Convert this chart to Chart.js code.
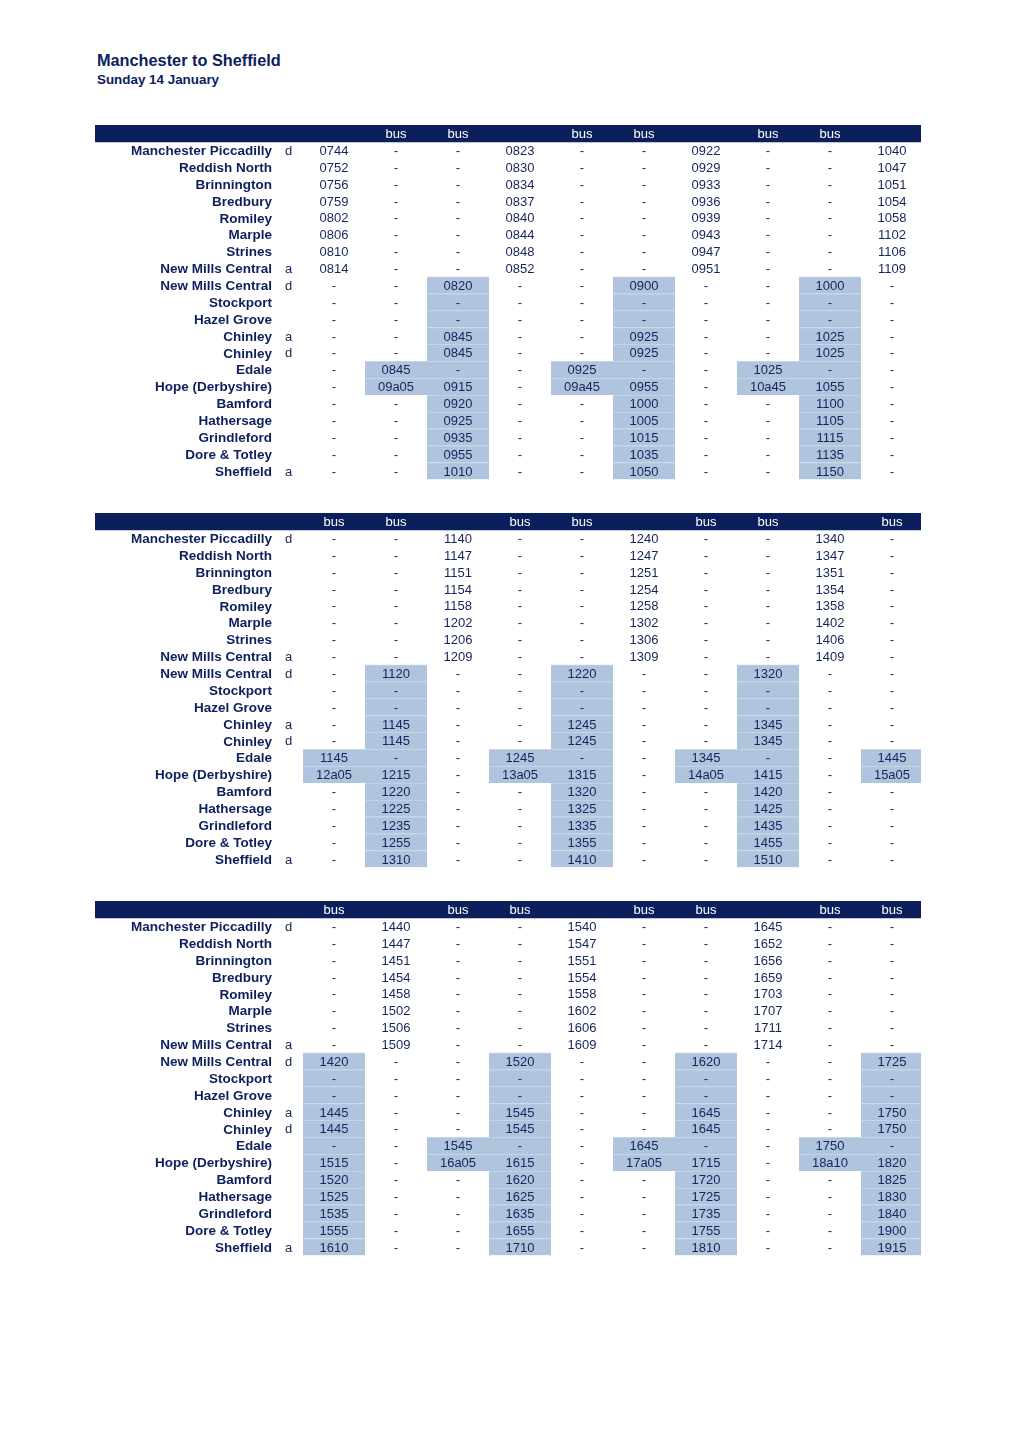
<!DOCTYPE html>
<html>
<head>
<meta charset="utf-8">
<script src="https://cdn.jsdelivr.net/npm/chart.js@4.4.1/dist/chart.umd.min.js"></script>
<style>
  body { margin: 0; background: #fff; width: 1020px; height: 1442px; position: relative; font-family: "Liberation Sans", Arial, sans-serif; }
  h1 { position: absolute; left: 97px; top: 51px; margin: 0; font-size: 16.3px; font-weight: bold; color: #0b2060; }
  h2 { position: absolute; left: 97px; top: 72px; margin: 0; font-size: 13.4px; font-weight: bold; color: #0b2060; }
  canvas { position: absolute; left: 0; }
</style>
</head>
<body>
<h1>Manchester to Sheffield</h1>
<h2>Sunday 14 January</h2>
<canvas id="t1" width="1020" height="365" style="top:120px"></canvas>
<canvas id="t2" width="1020" height="365" style="top:508px"></canvas>
<canvas id="t3" width="1020" height="365" style="top:896px"></canvas>
<script>
var stations = ['Manchester Piccadilly','Reddish North','Brinnington','Bredbury','Romiley','Marple','Strines',
  'New Mills Central','New Mills Central','Stockport','Hazel Grove','Chinley','Chinley','Edale',
  'Hope (Derbyshire)','Bamford','Hathersage','Grindleford','Dore & Totley','Sheffield'];
var arrDep = ['d','','','','','','','a','d','','','a','d','','','','','','','a'];

// columns with "bus" in header (1..10)
var bus1 = [2,3,5,6,8,9];
var bus2 = [1,2,4,5,7,8,10];
var bus3 = [1,3,4,6,7,9,10];

// shaded cells: [column, first row, last row]
var shade1 = [[2,13,14],[3,8,19],[5,13,14],[6,8,19],[8,13,14],[9,8,19]];
var shade2 = [[1,13,14],[2,8,19],[4,13,14],[5,8,19],[7,13,14],[8,8,19],[10,13,14]];
var shade3 = [[1,8,19],[3,13,14],[4,8,19],[6,13,14],[7,8,19],[9,13,14],[10,8,19]];

var times1 = [
  ['0744','-','-','0823','-','-','0922','-','-','1040'],
  ['0752','-','-','0830','-','-','0929','-','-','1047'],
  ['0756','-','-','0834','-','-','0933','-','-','1051'],
  ['0759','-','-','0837','-','-','0936','-','-','1054'],
  ['0802','-','-','0840','-','-','0939','-','-','1058'],
  ['0806','-','-','0844','-','-','0943','-','-','1102'],
  ['0810','-','-','0848','-','-','0947','-','-','1106'],
  ['0814','-','-','0852','-','-','0951','-','-','1109'],
  ['-','-','0820','-','-','0900','-','-','1000','-'],
  ['-','-','-','-','-','-','-','-','-','-'],
  ['-','-','-','-','-','-','-','-','-','-'],
  ['-','-','0845','-','-','0925','-','-','1025','-'],
  ['-','-','0845','-','-','0925','-','-','1025','-'],
  ['-','0845','-','-','0925','-','-','1025','-','-'],
  ['-','09a05','0915','-','09a45','0955','-','10a45','1055','-'],
  ['-','-','0920','-','-','1000','-','-','1100','-'],
  ['-','-','0925','-','-','1005','-','-','1105','-'],
  ['-','-','0935','-','-','1015','-','-','1115','-'],
  ['-','-','0955','-','-','1035','-','-','1135','-'],
  ['-','-','1010','-','-','1050','-','-','1150','-']
];
var times2 = [
  ['-','-','1140','-','-','1240','-','-','1340','-'],
  ['-','-','1147','-','-','1247','-','-','1347','-'],
  ['-','-','1151','-','-','1251','-','-','1351','-'],
  ['-','-','1154','-','-','1254','-','-','1354','-'],
  ['-','-','1158','-','-','1258','-','-','1358','-'],
  ['-','-','1202','-','-','1302','-','-','1402','-'],
  ['-','-','1206','-','-','1306','-','-','1406','-'],
  ['-','-','1209','-','-','1309','-','-','1409','-'],
  ['-','1120','-','-','1220','-','-','1320','-','-'],
  ['-','-','-','-','-','-','-','-','-','-'],
  ['-','-','-','-','-','-','-','-','-','-'],
  ['-','1145','-','-','1245','-','-','1345','-','-'],
  ['-','1145','-','-','1245','-','-','1345','-','-'],
  ['1145','-','-','1245','-','-','1345','-','-','1445'],
  ['12a05','1215','-','13a05','1315','-','14a05','1415','-','15a05'],
  ['-','1220','-','-','1320','-','-','1420','-','-'],
  ['-','1225','-','-','1325','-','-','1425','-','-'],
  ['-','1235','-','-','1335','-','-','1435','-','-'],
  ['-','1255','-','-','1355','-','-','1455','-','-'],
  ['-','1310','-','-','1410','-','-','1510','-','-']
];
var times3 = [
  ['-','1440','-','-','1540','-','-','1645','-','-'],
  ['-','1447','-','-','1547','-','-','1652','-','-'],
  ['-','1451','-','-','1551','-','-','1656','-','-'],
  ['-','1454','-','-','1554','-','-','1659','-','-'],
  ['-','1458','-','-','1558','-','-','1703','-','-'],
  ['-','1502','-','-','1602','-','-','1707','-','-'],
  ['-','1506','-','-','1606','-','-','1711','-','-'],
  ['-','1509','-','-','1609','-','-','1714','-','-'],
  ['1420','-','-','1520','-','-','1620','-','-','1725'],
  ['-','-','-','-','-','-','-','-','-','-'],
  ['-','-','-','-','-','-','-','-','-','-'],
  ['1445','-','-','1545','-','-','1645','-','-','1750'],
  ['1445','-','-','1545','-','-','1645','-','-','1750'],
  ['-','-','1545','-','-','1645','-','-','1750','-'],
  ['1515','-','16a05','1615','-','17a05','1715','-','18a10','1820'],
  ['1520','-','-','1620','-','-','1720','-','-','1825'],
  ['1525','-','-','1625','-','-','1725','-','-','1830'],
  ['1535','-','-','1635','-','-','1735','-','-','1840'],
  ['1555','-','-','1655','-','-','1755','-','-','1900'],
  ['1610','-','-','1710','-','-','1810','-','-','1915']
];

var X_MIN = -2.855, X_MAX = 10.468;
var NAVY = '#0b1f5c';
var SHADE = '#b0c4de';

var textPlugin = {
  id: 'timetableText',
  afterDatasetsDraw: function(chart) {
    var ctx = chart.ctx;
    var xs = chart.scales.x, ys = chart.scales.y;
    var t = chart.options.plugins.timetableText;
    ctx.save();
    ctx.textBaseline = 'middle';
    // header
    ctx.font = '13px "Liberation Sans", Arial, sans-serif';
    ctx.fillStyle = '#ffffff';
    ctx.textAlign = 'center';
    var hy = ys.getPixelForValue(0) + 1;
    t.bus.forEach(function(c) { ctx.fillText('bus', xs.getPixelForValue(c), hy); });
    for (var r = 0; r < stations.length; r++) {
      var py = ys.getPixelForValue(r + 1) + 1;
      ctx.font = 'bold 13.5px "Liberation Sans", Arial, sans-serif';
      ctx.fillStyle = '#0d1f5c';
      ctx.textAlign = 'right';
      ctx.fillText(stations[r], xs.getPixelForValue(0), py);
      ctx.font = '13px "Liberation Sans", Arial, sans-serif';
      ctx.fillStyle = '#16245a';
      ctx.textAlign = 'left';
      if (arrDep[r]) ctx.fillText(arrDep[r], xs.getPixelForValue(0.21), py);
      ctx.textAlign = 'center';
      for (var c = 0; c < 10; c++) {
        ctx.fillText(t.times[r][c], xs.getPixelForValue(c + 1), py);
      }
    }
    ctx.restore();
  }
};

function drawTable(id, times, bus, shade) {
  var labels = ['header'].concat(stations.map(function(s, i) { return s + ' ' + arrDep[i] + i; }));
  var datasets = [];
  var hdr = labels.map(function(l, i) { return i === 0 ? [X_MIN, X_MAX] : null; });
  datasets.push({ data: hdr, backgroundColor: NAVY, borderWidth: 0 });
  shade.forEach(function(s) {
    var d = labels.map(function(l, i) {
      var r = i - 1;
      return (r >= s[1] && r <= s[2]) ? [s[0] - 0.5, s[0] + 0.5] : null;
    });
    datasets.push({
      data: d, backgroundColor: SHADE, borderColor: '#c8d5e8',
      borderWidth: { top: 1, bottom: 0, left: 0, right: 0 }, borderSkipped: false
    });
  });
  datasets.forEach(function(ds) {
    ds.grouped = false; ds.barPercentage = 1; ds.categoryPercentage = 1;
  });

  new Chart(document.getElementById(id), {
    type: 'bar',
    data: { labels: labels, datasets: datasets },
    options: {
      indexAxis: 'y',
      responsive: false,
      animation: false,
      layout: { padding: { left: 95, right: 99, top: 5, bottom: 5.5 } },
      scales: {
        x: { type: 'linear', min: X_MIN, max: X_MAX, display: false },
        y: { type: 'category', display: false }
      },
      plugins: {
        legend: { display: false },
        tooltip: { enabled: false },
        timetableText: { times: times, bus: bus }
      }
    },
    plugins: [textPlugin]
  });
}

drawTable('t1', times1, bus1, shade1);
drawTable('t2', times2, bus2, shade2);
drawTable('t3', times3, bus3, shade3);
</script>
</body>
</html>
